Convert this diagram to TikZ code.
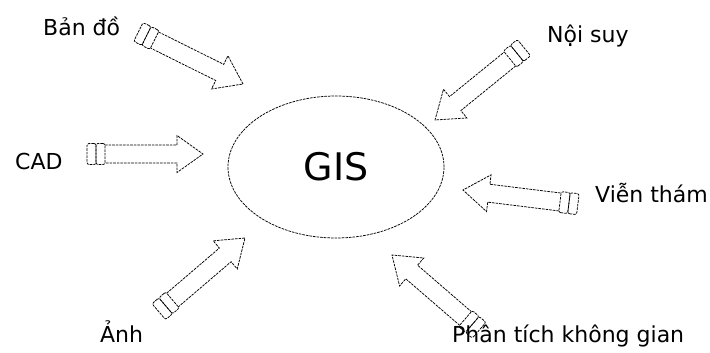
\documentclass[tikz,border=0pt]{standalone}
\usepackage{fontspec}
\setmainfont{DejaVu Sans}
\usetikzlibrary{calc,shapes.geometric}
\newcommand\blkarrow[3]{%
  \coordinate (#1T) at (#2);
  \coordinate (#1P) at (#3);
  \coordinate (#1H) at ($(#1P)!26pt!(#1T)$);
  \coordinate (#1C) at ($(#1T)!-9pt!(#1P)$);
  \coordinate (#1D) at ($(#1T)!-18pt!(#1P)$);
  \draw[outl] ($(#1T)!9pt!90:(#1P)$) -- ($(#1H)!9pt!90:(#1P)$)
    -- ($(#1H)!18.5pt!90:(#1P)$) -- (#1P) -- ($(#1H)!18.5pt!-90:(#1P)$)
    -- ($(#1H)!9pt!-90:(#1P)$) -- ($(#1T)!9pt!-90:(#1P)$);
  \draw[outl, rounded corners=2pt] ($(#1T)!10.5pt!90:(#1P)$) -- ($(#1C)!10.5pt!90:(#1P)$)
    -- ($(#1C)!10.5pt!-90:(#1P)$) -- ($(#1T)!10.5pt!-90:(#1P)$) -- cycle;
  \draw[outl, rounded corners=2pt] ($(#1C)!10.5pt!90:(#1P)$) -- ($(#1D)!10.5pt!90:(#1P)$)
    -- ($(#1D)!10.5pt!-90:(#1P)$) -- ($(#1C)!10.5pt!-90:(#1P)$) -- cycle;
}
\begin{document}
\begin{tikzpicture}[x=1pt,y=-1pt,
  outl/.style={line width=0.75pt, dash pattern=on 2.6pt off 1pt, black},
  lbl/.style={font=\fontsize{22}{26}\selectfont, inner sep=0pt},
]
\useasboundingbox (0,0) rectangle (710,353);
\node[ellipse, draw, outl, minimum width=216pt, minimum height=142pt, inner sep=0pt,
      font=\fontsize{38}{40}\selectfont] (gis) at (336,167) {GIS};
\blkarrow{a1}{154.5,40}{243,84}
\blkarrow{a2}{510,59}{435,120}
\blkarrow{a3}{105,154}{203,154}
\blkarrow{a4}{560,202}{463,190}
\blkarrow{a5}{172.5,300}{245,238}
\blkarrow{a6}{465.5,318.5}{392,255}
\node[lbl, anchor=base west] (bando) at (43,36) {Bản đồ};
\node[lbl, anchor=base west] (noisuy) at (547,43) {Nội suy};
\node[lbl, anchor=base west] (cad) at (15,169) {CAD};
\node[lbl, anchor=base west] (vientham) at (595,202) {Viễn thám};
\node[lbl, anchor=base west] (anh) at (100,342) {Ảnh};
\node[lbl, anchor=base west] (phantich) at (452,342) {Phân tích không gian};
\end{tikzpicture}
\end{document}
